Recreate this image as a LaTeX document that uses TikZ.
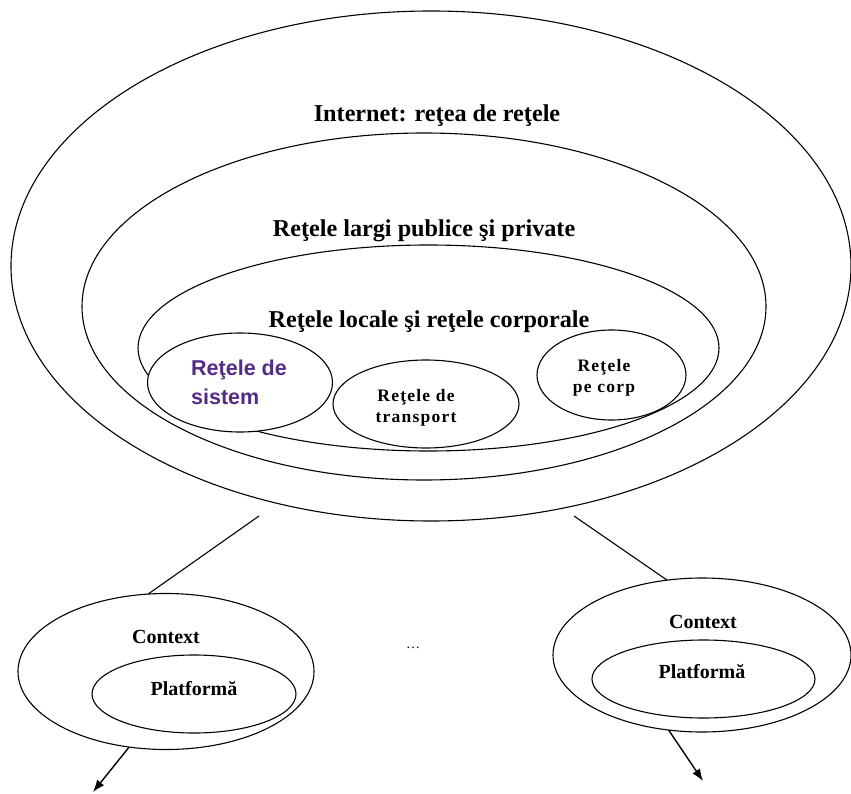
\documentclass[tikz,border=0pt]{standalone}
\usepackage{fontspec}
\setmainfont{Liberation Serif}
\newfontfamily\sansfam{Liberation Sans}
\newfontfamily\spacedserif[LetterSpace=7]{Liberation Serif}
\usetikzlibrary{shapes.geometric,arrows.meta}
\definecolor{sistpurple}{RGB}{84,44,134}
\tikzset{
  ell/.style={draw, ellipse, line width=1.1pt, inner sep=0pt, outer sep=0pt},
  bigtxt/.style={font=\bfseries\fontsize{24.2}{26}\selectfont, inner sep=0pt},
  midtxt/.style={font=\spacedserif\bfseries\fontsize{17.5}{20}\selectfont, inner sep=0pt},
  smalltxt/.style={font=\bfseries\fontsize{20}{22}\selectfont, inner sep=0pt},
  conn/.style={line width=1.1pt},
  arr/.style={line width=1.4pt, -{Latex[length=12pt,width=9pt]}}
}
\begin{document}
\begin{tikzpicture}[x=1pt,y=-1pt]
\useasboundingbox (0,0) rectangle (851,794);
% nested ellipses
\node[ell, minimum width=840pt, minimum height=510pt] (inet) at (431,266) {};
\node[ell, minimum width=684pt, minimum height=347pt] (wan) at (424,306.5) {};
\node[ell, minimum width=581pt, minimum height=206pt] (lan) at (428.5,348) {};
\node[ell, fill=white, minimum width=186pt, minimum height=88pt] (transp) at (426,404) {};
\node[ell, fill=white, minimum width=185pt, minimum height=99pt] (sist) at (240,382.5) {};
\node[ell, fill=white, minimum width=149pt, minimum height=90pt] (corp) at (611.5,375) {};
% titles
\node[bigtxt] (tinet) at (437,116) {Internet: reţea de reţele};
\node[bigtxt] (twan) at (424,231) {Reţele largi publice şi private};
\node[bigtxt] (tlan) at (429,322) {Reţele locale şi reţele corporale};
% inner labels
\node[font=\sansfam\bfseries\fontsize{21.5}{29}\selectfont, text=sistpurple, align=left, inner sep=0pt, anchor=west] (tsist) at (191,382) {Reţele de\\sistem};
\node[midtxt, align=center] (ttransp) at (416,408) {Reţele de\\[1pt]transport};
\node[midtxt, align=center] (tcorp) at (604,378) {Reţele\\[1pt]pe corp};
% lower contexts
\node[ell, minimum width=296pt, minimum height=156pt] (ctxL) at (166,671.5) {};
\node[ell, minimum width=204pt, minimum height=78pt] (platL) at (194,694) {};
\node[ell, minimum width=298pt, minimum height=154pt] (ctxR) at (702,655) {};
\node[ell, minimum width=223pt, minimum height=78pt] (platR) at (703.5,679) {};
\node[smalltxt] (tctxL) at (166,637) {Context};
\node[smalltxt] (tplatL) at (194,689) {Platformă};
\node[smalltxt] (tctxR) at (703,622) {Context};
\node[smalltxt] (tplatR) at (702,672) {Platformă};
\node[font=\fontsize{14}{16}\selectfont, inner sep=0pt] (dots) at (413,648) {\dots};
% connectors
\coordinate (lstart) at (259,516);
\coordinate (rstart) at (574,516);
\draw[conn] (lstart) -- (ctxL.103);
\draw[conn] (rstart) -- (ctxR.115);
\coordinate (lend) at (93,792);
\coordinate (rend) at (703,781);
\draw[arr] (ctxL.244) -- (lend);
\draw[arr] (ctxR.246) -- (rend);
\end{tikzpicture}
\end{document}
